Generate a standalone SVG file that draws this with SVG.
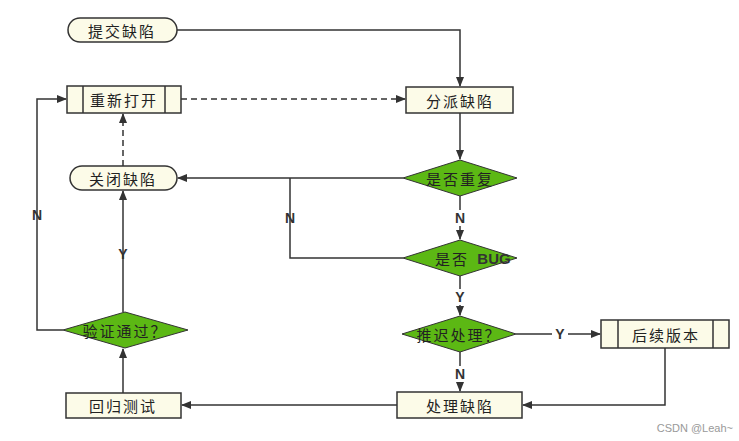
<svg xmlns="http://www.w3.org/2000/svg" width="739" height="441" viewBox="0 0 739 441">
<defs>
<marker id="a" markerWidth="10" markerHeight="8" refX="9" refY="4" orient="auto" markerUnits="userSpaceOnUse"><path d="M0,0 L10,4 L0,8 Z" fill="#333"/></marker>
<style>
.n{fill:#fcfbe8;stroke:#333;stroke-width:1.5}
.d{fill:#5cb814;stroke:#333;stroke-width:1}
.t{font-family:"Noto Sans CJK SC",sans-serif;font-size:15px;fill:#222;text-anchor:middle;dominant-baseline:central;letter-spacing:2px}
.l{font-family:"Liberation Sans",sans-serif;font-weight:bold;font-size:14px;fill:#333;text-anchor:middle;dominant-baseline:central}
.c{fill:none;stroke:#333;stroke-width:1.5}
.dash{stroke-dasharray:6,4}
</style>
</defs>
<rect width="739" height="441" fill="#fff"/>
<g id="connectors">
<path class="c" d="M177,30 H460 V86" marker-end="url(#a)"/>
<path class="c dash" d="M181,99 H405" marker-end="url(#a)"/>
<path class="c" d="M460,113 V159" marker-end="url(#a)"/>
<path class="c" d="M403,178 H178" marker-end="url(#a)"/>
<path class="c" d="M460,196 V239" marker-end="url(#a)"/>
<path class="c" d="M403,258 H290 V178"/>
<path class="c" d="M460,276 V315" marker-end="url(#a)"/>
<path class="c" d="M516,334 H600" marker-end="url(#a)"/>
<path class="c" d="M460,352 V391" marker-end="url(#a)"/>
<path class="c" d="M665,348 V405 H523" marker-end="url(#a)"/>
<path class="c" d="M397,405 H182" marker-end="url(#a)"/>
<path class="c" d="M123,393 V349" marker-end="url(#a)"/>
<path class="c" d="M123,312 V191" marker-end="url(#a)"/>
<path class="c" d="M63,330 H37 V99 H66" marker-end="url(#a)"/>
<path class="c dash" d="M123,166 V114" marker-end="url(#a)"/>
<rect x="452" y="210" width="16" height="16" fill="#fff"/><text class="l" x="460" y="218">N</text>
<text class="l" x="290" y="218">N</text>
<rect x="452" y="289" width="16" height="16" fill="#fff"/><text class="l" x="460" y="297">Y</text>
<rect x="552" y="326" width="16" height="16" fill="#fff"/><text class="l" x="560" y="334">Y</text>
<rect x="452" y="366" width="16" height="16" fill="#fff"/><text class="l" x="460" y="374">N</text>
<text class="l" x="123" y="254">Y</text>
<text class="l" x="37" y="215">N</text>
</g>
<g id="submit"><rect class="n" x="68" y="18" width="109" height="24" rx="12"/><text class="t" x="122" y="30">提交缺陷</text></g>
<g id="reopen"><rect class="n" x="67" y="86" width="114" height="27"/><path class="c" d="M83,86V113M165,86V113"/><text class="t" x="124" y="99">重新打开</text></g>
<g id="assign"><rect class="n" x="406" y="87" width="107" height="26"/><text class="t" x="460" y="100">分派缺陷</text></g>
<g id="close"><rect class="n" x="70" y="166" width="107" height="24" rx="12"/><text class="t" x="123" y="178">关闭缺陷</text></g>
<g id="dup"><path class="d" d="M403,178 L460,160 L517,178 L460,196 Z"/><text class="t" x="460" y="178">是否重复</text></g>
<g id="bug"><path class="d" d="M403,258 L460,240 L517,258 L460,276 Z"/><text class="t" x="452" y="258">是否</text><text class="l" x="494" y="258" style="font-size:15px">BUG</text></g>
<g id="defer"><path class="d" d="M402,334 L460,316 L516,334 L460,352 Z"/><text class="t" x="459" y="334">推迟处理？</text></g>
<g id="later"><rect class="n" x="601" y="320" width="128" height="28"/><path class="c" d="M618,320V348M713,320V348"/><text class="t" x="666" y="334">后续版本</text></g>
<g id="fix"><rect class="n" x="397" y="392" width="125" height="26"/><text class="t" x="460" y="405">处理缺陷</text></g>
<g id="regress"><rect class="n" x="66" y="393" width="115" height="25"/><text class="t" x="123" y="405">回归测试</text></g>
<g id="verify"><path class="d" d="M63,330 L125,312 L188,330 L125,348 Z"/><text class="t" x="125" y="330">验证通过？</text></g>
<text x="733" y="432" text-anchor="end" style="font-family:'Liberation Sans',sans-serif;font-size:11px;fill:#999">CSDN @Leah~</text>
</svg>
